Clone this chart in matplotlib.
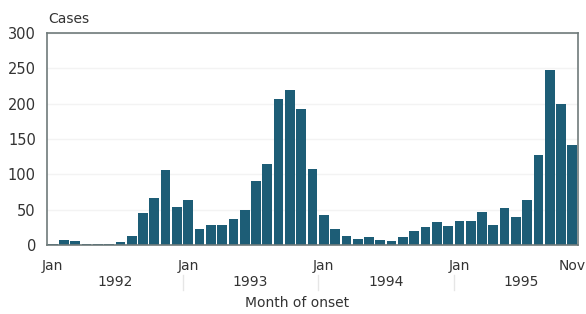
"""
Monthly cases by month of onset, Jan 1992 - Nov 1995
"""

import matplotlib.pyplot as plt
import numpy as np

# monthly counts, Jan 1992 .. Nov 1995
cases_1992 = [2, 7, 6, 2, 2, 1, 4, 13, 45, 67, 106, 54]
cases_1993 = [64, 22, 29, 29, 37, 49, 90, 114, 207, 220, 193, 108]
cases_1994 = [43, 23, 13, 9, 11, 7, 6, 11, 20, 25, 32, 27]
cases_1995 = [34, 34, 47, 28, 52, 40, 64, 128, 247, 199, 142]

years = ["1992", "1993", "1994", "1995"]
month_ticks = [0, 12, 24, 36, 46]
month_labels = ["Jan", "Jan", "Jan", "Jan", "Nov"]

cases = cases_1992 + cases_1993 + cases_1994 + cases_1995
months = np.arange(len(cases))

W, H = 586, 314
fig = plt.figure(figsize=(W / 100, H / 100), dpi=100)
ax = fig.add_axes([47 / W, 69 / H, 531 / W, 212 / H])

bar_color = "#1d5d76"
text_color = "#333333"
plt.rcParams["font.family"] = "DejaVu Sans"

ax.bar(months, cases, width=0.86, color=bar_color, zorder=2)

ax.set_xlim(-0.5, len(cases) - 0.5)
ax.set_ylim(0, 300)
ax.set_yticks(range(0, 301, 50))
ax.yaxis.grid(True, color="#f3f3f3", linewidth=1, zorder=0)
ax.tick_params(axis="y", length=0, labelsize=10.5, colors=text_color, pad=8)
ax.set_xticks(month_ticks)
ax.set_xticklabels(month_labels)
ax.tick_params(axis="x", length=0, labelsize=10, colors=text_color, pad=10)

for s in ax.spines.values():
    s.set_color("#6f7a7a")
    s.set_linewidth(1.2)

# year labels under the month labels
for k, yr in enumerate(years):
    ax.text(k * 12 + 5.5, -0.175, yr, transform=ax.get_xaxis_transform(),
            ha="center", va="center", fontsize=10, color=text_color)
for b in [11.5, 23.5, 35.5]:
    ax.plot([b, b], [-0.14, -0.21], transform=ax.get_xaxis_transform(),
            color="#e6e6e6", linewidth=1, clip_on=False)

fig.text(297 / W, 1 - 303 / H, "Month of onset", ha="center", va="center",
         fontsize=10, color=text_color)
fig.text(48 / W, 1 - 19 / H, "Cases", ha="left", va="center",
         fontsize=10, color=text_color)

fig.savefig("out.png", dpi=100)
plt.close(fig)
